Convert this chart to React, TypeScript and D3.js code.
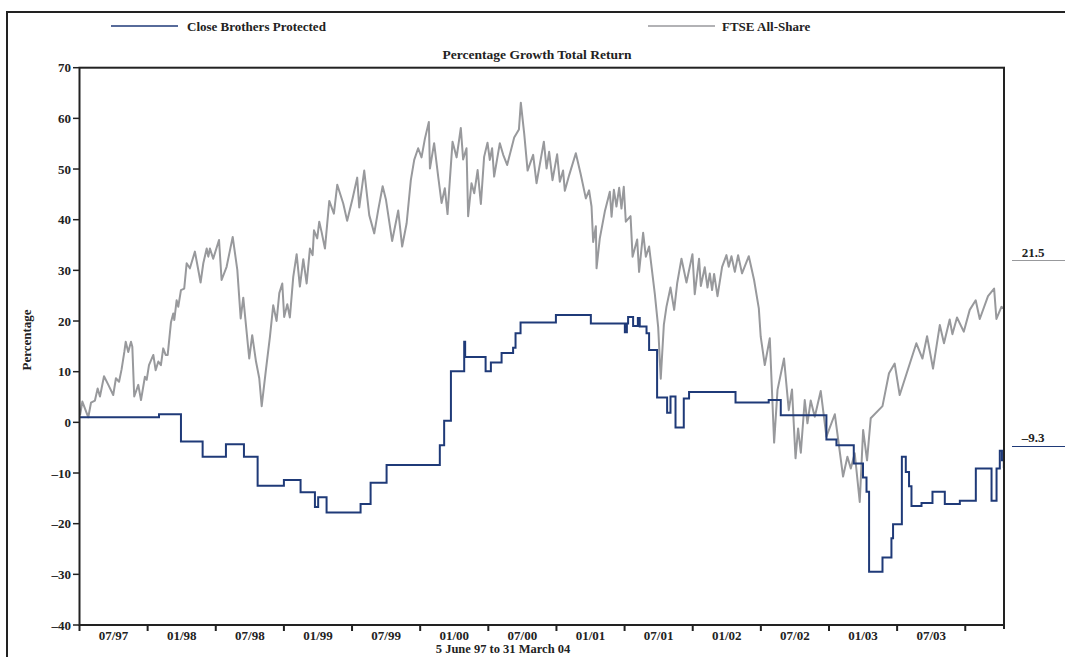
import React from "react";
import * as d3 from "d3";

// FTSE All-Share (decimal year, % growth)
const ftseYears = [1997.429,1997.446,1997.490,1997.510,1997.539,1997.559,1997.576,1997.606,1997.638,1997.674,1997.694,1997.717,1997.736,1997.756,1997.766,1997.785,1997.805,1997.815,1997.829,1997.859,1997.879,1997.908,1997.921,1997.938,1997.970,1997.987,1998.007,1998.026,1998.043,1998.061,1998.076,1998.100,1998.117,1998.125,1998.142,1998.154,1998.174,1998.198,1998.216,1998.240,1998.277,1998.319,1998.339,1998.364,1998.376,1998.388,1998.412,1998.455,1998.474,1998.511,1998.556,1998.590,1998.615,1998.634,1998.678,1998.700,1998.728,1998.752,1998.770,1998.801,1998.831,1998.855,1998.880,1998.900,1998.922,1998.936,1998.959,1998.978,1999.003,1999.028,1999.052,1999.077,1999.102,1999.126,1999.146,1999.156,1999.180,1999.195,1999.212,1999.237,1999.269,1999.303,1999.328,1999.372,1999.401,1999.441,1999.475,1999.490,1999.527,1999.564,1999.601,1999.630,1999.663,1999.687,1999.733,1999.778,1999.807,1999.840,1999.871,1999.896,1999.925,1999.950,1999.975,2000.004,2000.012,2000.043,2000.073,2000.098,2000.122,2000.142,2000.159,2000.179,2000.209,2000.240,2000.257,2000.282,2000.294,2000.319,2000.339,2000.364,2000.388,2000.412,2000.437,2000.454,2000.471,2000.486,2000.528,2000.553,2000.582,2000.634,2000.669,2000.683,2000.708,2000.733,2000.774,2000.799,2000.853,2000.873,2000.892,2000.917,2000.951,2000.971,2000.995,2001.008,2001.040,2001.089,2001.124,2001.163,2001.187,2001.205,2001.217,2001.237,2001.242,2001.266,2001.303,2001.340,2001.353,2001.370,2001.389,2001.409,2001.426,2001.443,2001.458,2001.493,2001.508,2001.542,2001.556,2001.586,2001.606,2001.630,2001.672,2001.697,2001.716,2001.739,2001.758,2001.788,2001.815,2001.837,2001.869,2001.906,2001.950,2001.967,2001.999,2002.012,2002.041,2002.061,2002.078,2002.095,2002.110,2002.135,2002.169,2002.201,2002.218,2002.238,2002.263,2002.287,2002.316,2002.366,2002.405,2002.440,2002.454,2002.484,2002.521,2002.553,2002.578,2002.626,2002.661,2002.685,2002.711,2002.730,2002.750,2002.779,2002.799,2002.823,2002.853,2002.897,2002.939,2003.001,2003.062,2003.094,2003.119,2003.148,2003.185,2003.210,2003.239,2003.266,2003.353,2003.401,2003.443,2003.480,2003.603,2003.648,2003.682,2003.726,2003.776,2003.807,2003.849,2003.869,2003.903,2003.953,2003.997,2004.041,2004.071,2004.132,2004.177,2004.194,2004.231,2004.248];
const ftseValues = [1.4,4.1,1.0,3.9,4.3,6.7,5.1,9.1,7.4,5.4,8.7,8.0,10.5,13.9,15.9,13.9,15.9,14.9,5.1,7.4,4.4,9.0,8.4,11.3,13.3,10.3,12.0,11.3,14.6,13.3,13.3,19.7,21.5,20.2,24.1,22.8,26.1,26.4,31.4,30.4,33.7,27.6,31.4,34.3,32.7,34.3,32.3,36.0,28.1,30.7,36.6,30.1,20.5,24.6,12.6,17.2,12.0,8.7,3.2,10.3,16.9,23.1,20.0,25.5,27.4,20.8,23.3,20.7,28.7,33.2,26.8,32.2,27.4,34.3,33.0,37.9,36.3,39.6,37.6,34.3,43.7,41.2,46.9,43.2,39.8,44.2,48.3,42.4,49.7,40.9,37.3,41.9,46.6,44.0,35.8,41.8,34.7,39.3,47.8,51.8,54.1,52.3,56.0,59.3,50.1,55.1,48.5,43.3,46.2,41.1,47.8,55.4,52.3,58.1,51.9,54.1,40.7,47.2,45.2,49.8,43.1,52.4,55.2,51.8,54.1,48.5,55.1,52.8,50.8,56.2,57.8,63.1,57.0,49.7,52.8,47.2,55.4,50.1,53.4,47.8,52.9,47.5,49.7,45.7,48.8,53.1,49.1,44.2,45.8,42.6,35.6,38.7,30.4,36.3,41.6,45.5,40.6,45.9,42.6,46.3,42.2,46.5,39.6,40.7,32.7,36.1,29.7,37.4,32.7,34.7,25.4,18.8,8.6,19.3,22.8,26.6,22.2,27.4,32.3,27.6,33.2,25.3,32.3,26.9,30.6,26.6,29.4,26.1,29.3,24.9,30.7,33.0,30.7,32.8,29.7,33.0,29.4,32.8,28.1,22.5,16.9,11.3,16.6,-4.0,6.4,12.6,2.4,6.5,-7.1,-1.2,-6.0,4.4,-0.2,4.3,1.1,6.2,-2.8,1.6,-10.7,-6.8,-9.1,-6.1,-15.7,-1.5,-7.5,0.8,3.2,9.7,11.6,5.4,15.6,12.6,17.0,10.6,19.2,15.6,20.3,17.4,20.7,17.9,22.2,24.1,20.4,24.9,26.4,20.4,22.8,22.5];

// Close Brothers Protected (step changes: decimal year, % growth)
const cbpYears = [1997.429,1998.012,1998.174,1998.334,1998.506,1998.639,1998.740,1998.934,1999.057,1999.163,1999.187,1999.249,1999.500,1999.574,1999.692,2000.085,2000.117,2000.167,2000.265,2000.272,2000.423,2000.462,2000.541,2000.626,2000.644,2000.681,2000.942,2001.200,2001.451,2001.466,2001.475,2001.512,2001.547,2001.561,2001.611,2001.630,2001.689,2001.763,2001.788,2001.825,2001.886,2001.925,2002.268,2002.513,2002.602,2002.939,2003.013,2003.141,2003.209,2003.235,2003.254,2003.353,2003.419,2003.431,2003.496,2003.525,2003.549,2003.567,2003.641,2003.722,2003.813,2003.924,2004.042,2004.158,2004.195,2004.219,2004.235,2004.249];
const cbpValues = [1.0,1.6,-3.8,-6.8,-4.3,-6.8,-12.5,-11.4,-13.8,-16.7,-14.8,-17.8,-16.1,-11.9,-8.4,-4.5,0.3,10.1,15.9,12.9,10.1,11.8,13.7,14.7,17.6,19.7,21.2,19.5,17.8,19.5,20.8,19.0,20.6,18.9,17.6,14.3,4.9,1.9,5.1,-1.0,4.7,6.0,3.9,4.4,1.4,-3.4,-4.5,-8.1,-10.9,-13.7,-29.5,-26.7,-22.9,-20.1,-6.8,-9.8,-12.6,-16.5,-15.9,-13.7,-16.1,-15.5,-9.1,-15.5,-9.1,-5.6,-7.5,-8.8];

const xDomain = [1997.425, 2004.25];
const yTicks = [-40, -30, -20, -10, 0, 10, 20, 30, 40, 50, 60, 70];
const xTickYears = [1997.425,1997.928,1998.431,1998.934,1999.437,1999.94,2000.443,2000.946,2001.449,2001.952,2002.455,2002.958,2003.461,2003.964];
const xTickLabels = ["07/97","01/98","07/98","01/99","07/99","01/00","07/00","01/01","07/01","01/02","07/02","01/03","07/03"];
const seriesNames = ["Close Brothers Protected", "FTSE All-Share"];
const endLabels = ["21.5", "\u20139.3"];

const BLUE = "#1f3a78";
const GREY = "#98999c";
const FONT = "'Liberation Serif', 'Times New Roman', serif";

export default function App() {
  const left = 79.5, right = 1004, top = 67.7, bottom = 625;
  const x = d3.scaleLinear().domain(xDomain).range([left, right]);
  const y = d3.scaleLinear().domain([-40, 70]).range([bottom, top]);

  const ftse = ftseYears.map((t, i) => [t, ftseValues[i]] as [number, number]);
  const cbp = cbpYears.map((t, i) => [t, cbpValues[i]] as [number, number]);
  cbp.push([xDomain[1], cbpValues[cbpValues.length - 1]]);

  const lineLin = d3.line<[number, number]>().x(d => x(d[0])).y(d => y(d[1]));
  const lineStep = d3.line<[number, number]>().x(d => x(d[0])).y(d => y(d[1])).curve(d3.curveStepAfter);

  return (
    <svg width={1065} height={657} style={{ position: "absolute", left: 0, top: 0, background: "#fff" }} fontFamily={FONT}>
      {/* outer frame */}
      <line x1={7} y1={12} x2={7} y2={657} stroke="#222" strokeWidth={2} />
      <line x1={6} y1={12} x2={1065} y2={12} stroke="#222" strokeWidth={2} />

      {/* legend */}
      <line x1={111} x2={178} y1={26} y2={26} stroke={BLUE} strokeWidth={1.5} />
      <text x={187} y={30.5} fontSize={13} fontWeight="bold" fill="#222">{seriesNames[0]}</text>
      <line x1={648} x2={715} y1={26} y2={26} stroke={GREY} strokeWidth={1.5} />
      <text x={722} y={30.5} fontSize={13} fontWeight="bold" fill="#222">{seriesNames[1]}</text>

      {/* title */}
      <text x={537} y={59} fontSize={13.5} fontWeight="bold" textAnchor="middle" fill="#222">Percentage Growth Total Return</text>

      {/* y axis ticks */}
      {yTicks.map(t => (
        <g key={t}>
          <line x1={73} x2={left} y1={y(t)} y2={y(t)} stroke="#222" strokeWidth={1.5} />
          <text x={71} y={y(t) + 4.5} fontSize={13} fontWeight="bold" textAnchor="end" fill="#222">{t < 0 ? "\u2013" + Math.abs(t) : t}</text>
        </g>
      ))}
      <text transform={`translate(31,340) rotate(-90)`} fontSize={13} fontWeight="bold" textAnchor="middle" fill="#222">Percentage</text>

      {/* x axis ticks */}
      {xTickYears.map((t, i) => (
        <line key={i} x1={x(t)} x2={x(t)} y1={bottom} y2={bottom + 6} stroke="#222" strokeWidth={2} />
      ))}
      <line x1={right} x2={right} y1={bottom} y2={bottom + 4} stroke="#222" strokeWidth={2} />
      {xTickLabels.map((l, i) => (
        <text key={l} x={(x(xTickYears[i]) + x(xTickYears[i + 1])) / 2} y={640} fontSize={13} fontWeight="bold" textAnchor="middle" fill="#222">{l}</text>
      ))}
      <text x={503} y={653} fontSize={12.5} fontWeight="bold" textAnchor="middle" fill="#222">5 June 97 to 31 March 04</text>

      {/* series */}
      <path d={lineLin(ftse) || ""} fill="none" stroke={GREY} strokeWidth={2} strokeLinejoin="round" />
      <path d={lineStep(cbp) || ""} fill="none" stroke={BLUE} strokeWidth={2} />

      {/* plot frame */}
      <rect x={left} y={top} width={right - left} height={bottom - top} fill="none" stroke="#222" strokeWidth={2} />

      {/* end labels */}
      <text x={1033} y={257} fontSize={13} fontWeight="bold" textAnchor="middle" fill="#222">{endLabels[0]}</text>
      <line x1={1012} x2={1065} y1={260.5} y2={260.5} stroke={GREY} strokeWidth={1.2} />
      <text x={1033} y={442} fontSize={13} fontWeight="bold" textAnchor="middle" fill="#222">{endLabels[1]}</text>
      <line x1={1012} x2={1065} y1={446.5} y2={446.5} stroke={BLUE} strokeWidth={1.2} />
    </svg>
  );
}
